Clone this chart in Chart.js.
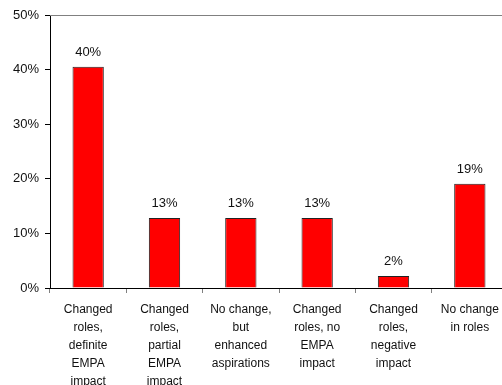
<!DOCTYPE html>
<html>
<head>
<meta charset="utf-8">
<script src="https://cdn.jsdelivr.net/npm/chart.js@4"></script>
<style>
html,body{margin:0;padding:0;background:#fff;overflow:hidden;width:502px;height:385px;}
#wrap{width:508px;height:385px;}
</style>
</head>
<body>
<div id="wrap"><canvas id="c" width="508" height="385"></canvas></div>
<script>
const categories = [
  ["Changed", "roles,", "definite", "EMPA", "impact"],
  ["Changed", "roles,", "partial", "EMPA", "impact"],
  ["No change,", "but", "enhanced", "aspirations"],
  ["Changed", "roles, no", "EMPA", "impact"],
  ["Changed", "roles,", "negative", "impact"],
  ["No change", "in roles"]
];
const values = [40.5, 12.8, 12.8, 12.8, 2.2, 19.1];
const valueLabels = ["40%", "13%", "13%", "13%", "2%", "19%"];
const yTicks = [0, 10, 20, 30, 40, 50];

const FONT = "'Liberation Sans', Arial, sans-serif";

const topBorder = {
  id: 'topBorder',
  afterDraw(chart) {
    const {ctx, chartArea} = chart;
    ctx.save();
    ctx.strokeStyle = '#808080';
    ctx.lineWidth = 1;
    ctx.beginPath();
    ctx.moveTo(chartArea.left, Math.round(chartArea.top) + 0.5);
    ctx.lineTo(chartArea.right, Math.round(chartArea.top) + 0.5);
    ctx.stroke();
    ctx.restore();
  }
};

const valueLabelPlugin = {
  id: 'valueLabels',
  afterDatasetsDraw(chart) {
    const {ctx} = chart;
    const meta = chart.getDatasetMeta(0);
    ctx.save();
    ctx.font = "13px " + FONT;
    ctx.fillStyle = '#111';
    ctx.textAlign = 'center';
    ctx.textBaseline = 'bottom';
    meta.data.forEach((bar, i) => {
      ctx.fillText(valueLabels[i], bar.x, bar.y - 8);
    });
    ctx.restore();
  }
};

new Chart(document.getElementById('c'), {
  type: 'bar',
  data: {
    labels: categories,
    datasets: [{
      data: values,
      backgroundColor: '#ff0000',
      borderColor: '#222',
      borderWidth: 1,
      barPercentage: 0.41,
      categoryPercentage: 1.0
    }]
  },
  options: {
    responsive: false,
    animation: false,
    devicePixelRatio: 1,
    layout: { padding: { top: 15, left: 0, right: 0, bottom: 0 } },
    plugins: { legend: { display: false }, tooltip: { enabled: false } },
    scales: {
      x: {
        grid: { display: true, offset: true, drawOnChartArea: false, tickLength: 5, color: '#808080' },
        border: { display: true, color: '#000', width: 1 },
        ticks: { color: '#111', font: { family: FONT, size: 12, lineHeight: 1.5 }, padding: 8, maxRotation: 0, autoSkip: false },
        afterFit(scale) { scale.height = 97; }
      },
      y: {
        min: 0, max: 50,
        afterBuildTicks(scale) { scale.ticks = yTicks.map(v => ({ value: v })); },
        grid: { display: true, drawOnChartArea: false, tickLength: 5, color: '#000' },
        border: { display: true, color: '#000', width: 1 },
        ticks: { color: '#111', font: { family: FONT, size: 13 }, padding: 6, callback: v => v + '%' },
        afterFit(scale) { scale.width = 50; }
      }
    }
  },
  plugins: [topBorder, valueLabelPlugin]
});
</script>
</body>
</html>
